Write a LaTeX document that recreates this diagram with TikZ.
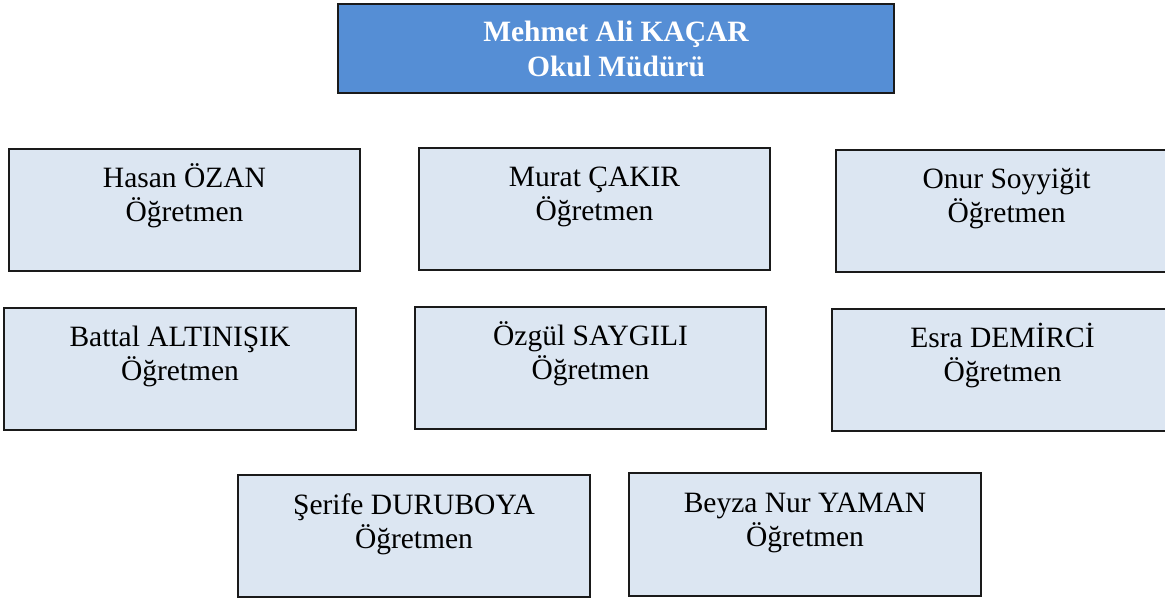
\documentclass[tikz,border=0pt]{standalone}
\usepackage{fontspec}
\setmainfont{Liberation Serif}
\definecolor{headblue}{HTML}{558ED5}
\definecolor{paleblue}{HTML}{DCE6F2}
\definecolor{edgegray}{HTML}{1A1A1A}
\tikzset{
  boxstyle/.style={draw=edgegray, line width=2pt, rectangle, anchor=north west, inner sep=0pt},
  headbox/.style={boxstyle, fill=headblue, minimum width=556pt, minimum height=89pt},
  pbox/.style={boxstyle, fill=paleblue, minimum width=351pt, minimum height=122pt},
  ptext/.style={anchor=base, inner sep=0pt, font=\fontsize{29.5}{34}\selectfont},
  htext/.style={anchor=base, inner sep=0pt, text=white, font=\fontsize{29.5}{34}\selectfont\bfseries}
}
\begin{document}
\begin{tikzpicture}[x=1pt,y=-1pt]
\useasboundingbox (0,0) rectangle (1165,601);
\clip (0,0) rectangle (1165,601);
% head
\node[headbox] (head) at (337,3) {};
\node[htext] (head1) at ([yshift=-39pt]head.north) {Mehmet Ali KAÇAR};
\node[htext] (head2) at ([yshift=-74pt]head.north) {Okul Müdürü};
% row 1
\node[pbox] (hasan) at (8,148) {};
\node[ptext] (hasan1) at ([yshift=-40pt]hasan.north) {Hasan ÖZAN};
\node[ptext] (hasan2) at ([yshift=-74pt]hasan.north) {Öğretmen};
\node[pbox] (murat) at (418,147) {};
\node[ptext] (murat1) at ([yshift=-40pt]murat.north) {Murat ÇAKIR};
\node[ptext] (murat2) at ([yshift=-74pt]murat.north) {Öğretmen};
\node[pbox, minimum width=341pt] (onur) at (835,149) {};
\node[ptext] (onur1) at ([yshift=-40pt]onur.north) {Onur Soyyiğit};
\node[ptext] (onur2) at ([yshift=-74pt]onur.north) {Öğretmen};
% row 2
\node[pbox, minimum width=352pt] (battal) at (3,307) {};
\node[ptext] (battal1) at ([yshift=-40pt]battal.north) {Battal ALTINIŞIK};
\node[ptext] (battal2) at ([yshift=-74pt]battal.north) {Öğretmen};
\node[pbox] (ozgul) at (414,306) {};
\node[ptext] (ozgul1) at ([yshift=-40pt]ozgul.north) {Özgül SAYGILI};
\node[ptext] (ozgul2) at ([yshift=-74pt]ozgul.north) {Öğretmen};
\node[pbox, minimum width=341pt] (esra) at (831,308) {};
\node[ptext] (esra1) at ([yshift=-40pt]esra.north) {Esra DEMİRCİ};
\node[ptext] (esra2) at ([yshift=-74pt]esra.north) {Öğretmen};
% row 3
\node[pbox, minimum width=352pt] (serife) at (237,474) {};
\node[ptext] (serife1) at ([yshift=-40pt]serife.north) {Şerife DURUBOYA};
\node[ptext] (serife2) at ([yshift=-74pt]serife.north) {Öğretmen};
\node[pbox, minimum width=352pt, minimum height=123pt] (beyza) at (628,472) {};
\node[ptext] (beyza1) at ([yshift=-40pt]beyza.north) {Beyza Nur YAMAN};
\node[ptext] (beyza2) at ([yshift=-74pt]beyza.north) {Öğretmen};
\end{tikzpicture}
\end{document}
